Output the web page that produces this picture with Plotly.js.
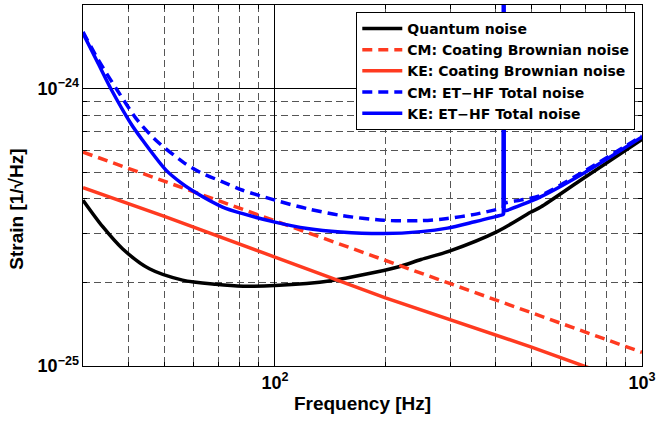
<!DOCTYPE html>
<html>
<head>
<meta charset="utf-8">
<script src="https://cdn.plot.ly/plotly-3.0.1.min.js"></script>
<style>html,body{margin:0;padding:0;background:#fff;}#chart{width:657px;height:425px;}</style>
</head>
<body>
<div id="chart"></div>
<script>
// ---- data ----
const freqQuantum = [30, 34, 38.5, 45.5, 56, 69, 82, 100, 142, 215, 250, 300, 403, 497, 530, 680, 1000];
const quantumNoise = [3.96e-25, 3.17e-25, 2.64e-25, 2.24e-25, 2.04e-25, 1.97e-25, 1.94e-25, 1.95e-25, 2.03e-25, 2.27e-25, 2.42e-25, 2.60e-25, 3.05e-25, 3.58e-25, 3.74e-25, 4.67e-25, 6.55e-25];

const freqCoating = [30, 50, 100, 200, 500, 1000];
const cmCoating = [5.90e-25, 4.63e-25, 3.33e-25, 2.40e-25, 1.55e-25, 1.12e-25];
const keCoating = [4.39e-25, 3.46e-25, 2.47e-25, 1.76e-25, 1.17e-25, 0.84e-25];

const freqCmTotal = [30, 33, 37.2, 42.2, 47.4, 56.1, 62.3, 72, 81.7, 100, 122.5, 151, 198, 250, 295, 350, 411, 419, 421, 467, 529, 679, 1000];
const cmTotal = [1.60e-24, 1.27e-24, 9.86e-25, 7.69e-25, 6.51e-25, 5.44e-25, 5.0e-25, 4.61e-25, 4.30e-25, 3.96e-25, 3.69e-25, 3.49e-25, 3.35e-25, 3.34e-25, 3.40e-25, 3.52e-25, 3.69e-25, 3.71e-25, 3.85e-25, 3.96e-25, 4.12e-25, 4.94e-25, 6.75e-25];

const freqKeTotal = [30, 33, 35.7, 40.5, 43.6, 50.5, 55.4, 59.7, 72, 81.7, 100, 122.5, 151, 198, 250, 295, 350, 411, 419, 421, 429, 529, 679, 1000];
const keTotal = [1.58e-24, 1.23e-24, 1.0e-24, 7.48e-25, 6.51e-25, 5.08e-25, 4.58e-25, 4.28e-25, 3.74e-25, 3.54e-25, 3.30e-25, 3.13e-25, 3.04e-25, 3.00e-25, 3.05e-25, 3.14e-25, 3.31e-25, 3.49e-25, 3.52e-25, 3.62e-25, 3.64e-25, 4.07e-25, 4.87e-25, 6.69e-25];

// narrow resonance line (~420 Hz) in both total-noise curves
const freqSpike = [419, 420, 421];
const cmSpike = [3.71e-25, 5e-23, 3.85e-25];
const keSpike = [3.52e-25, 5e-23, 3.62e-25];

const seriesNames = ["Quantum noise", "CM: Coating Brownian noise", "KE: Coating Brownian noise", "CM: ET\u2212HF Total noise", "KE: ET\u2212HF Total noise"];

const xMinorTicks = [40, 50, 60, 70, 80, 90, 200, 300, 400, 500, 600, 700, 800, 900];
const xMajorTicks = [100, 1000];
const xMajorLabels = ["10<sup>2</sup>", "10<sup>3</sup>"];
const yMinorTicks = [2e-25, 3e-25, 4e-25, 5e-25, 6e-25, 7e-25, 8e-25, 9e-25];
const yMajorTicks = [1e-25, 1e-24];
const yMajorLabels = ["10<sup>\u221225</sup>", "10<sup>\u221224</sup>"];

const RED = "rgb(255,58,32)";
const BLUE = "#0000ff";
const FONT = "Liberation Sans, Arial, sans-serif";
const LEGFONT = "DejaVu Sans, Liberation Sans, sans-serif";

const traces = [
  {x: freqQuantum, y: quantumNoise, name: seriesNames[0], mode: "lines", line: {color: "#000", width: 3.5, shape: "spline", smoothing: 0.8}},
  {x: freqCoating, y: cmCoating, name: seriesNames[1], mode: "lines", line: {color: RED, width: 3.5, dash: "10px,6px"}},
  {x: freqCoating, y: keCoating, name: seriesNames[2], mode: "lines", line: {color: RED, width: 3.5}},
  {x: freqCmTotal, y: cmTotal, name: seriesNames[3], mode: "lines", line: {color: BLUE, width: 3.5, dash: "10px,6px", shape: "spline", smoothing: 0.8}},
  {x: freqSpike, y: cmSpike, name: seriesNames[3], showlegend: false, mode: "lines", line: {color: BLUE, width: 3.5}},
  {x: freqKeTotal, y: keTotal, name: seriesNames[4], mode: "lines", xaxis: "x2", yaxis: "y2", line: {color: BLUE, width: 3.5, shape: "spline", smoothing: 0.8}},
  {x: freqSpike, y: keSpike, name: seriesNames[4], showlegend: false, mode: "lines", xaxis: "x2", yaxis: "y2", line: {color: BLUE, width: 3.5}}
];

const xr = [Math.log10(30), 3];
const yr = [-25, Math.log10(2e-24)];

const layout = {
  width: 657, height: 425,
  margin: {l: 83, r: 15, t: 5, b: 59},
  paper_bgcolor: "#fff", plot_bgcolor: "#fff",
  font: {family: FONT, color: "#000"},
  showlegend: true,
  legend: {
    x: 0.988, y: 0.981, xanchor: "right", yanchor: "top",
    bgcolor: "#fff", bordercolor: "#000", borderwidth: 1,
    font: {family: LEGFONT, size: 14, weight: "bold", color: "#000"},
    itemwidth: 40,
    tracegroupgap: 0
  },
  xaxis: {
    type: "log", range: xr, autorange: false,
    tickvals: xMinorTicks, showticklabels: false,
    ticks: "inside", ticklen: 4, tickcolor: "#000",
    showgrid: true, gridcolor: "#555", gridwidth: 1, griddash: "7px,4px",
    showline: true, linecolor: "#000", linewidth: 1, mirror: "allticks",
    zeroline: false,
    title: {text: "Frequency [Hz]", font: {family: FONT, size: 19, weight: "bold"}, standoff: 30}
  },
  xaxis2: {
    type: "log", range: xr, autorange: false, overlaying: "x", anchor: "y2", side: "bottom",
    tickvals: xMajorTicks, ticktext: xMajorLabels,
    ticks: "inside", ticklen: 7, tickcolor: "#000", ticklabelstandoff: 4,
    showgrid: true, gridcolor: "#000", gridwidth: 1,
    tickfont: {family: FONT, size: 18, weight: "bold"},
    showline: false, zeroline: false
  },
  yaxis: {
    type: "log", range: yr, autorange: false,
    tickvals: yMinorTicks, showticklabels: false,
    ticks: "inside", ticklen: 4, tickcolor: "#000",
    showgrid: true, gridcolor: "#555", gridwidth: 1, griddash: "7px,4px",
    showline: true, linecolor: "#000", linewidth: 1, mirror: "allticks",
    zeroline: false
  },
  yaxis2: {
    type: "log", range: yr, autorange: false, overlaying: "y", anchor: "x2", side: "left",
    tickvals: yMajorTicks, ticktext: yMajorLabels,
    ticks: "inside", ticklen: 7, tickcolor: "#000", ticklabelstandoff: 3,
    showgrid: true, gridcolor: "#000", gridwidth: 1,
    tickfont: {family: FONT, size: 18, weight: "bold"},
    showline: false, zeroline: false
  },
  annotations: [{
    text: "Strain [1/\u221AHz]", textangle: -90,
    xref: "paper", yref: "paper", x: -0.118, y: 0.433,
    xanchor: "center", yanchor: "middle", showarrow: false,
    font: {family: FONT, size: 19, weight: "bold", color: "#000"}
  }]
};

Plotly.newPlot("chart", traces, layout, {staticPlot: true, displayModeBar: false});
</script>
</body>
</html>
